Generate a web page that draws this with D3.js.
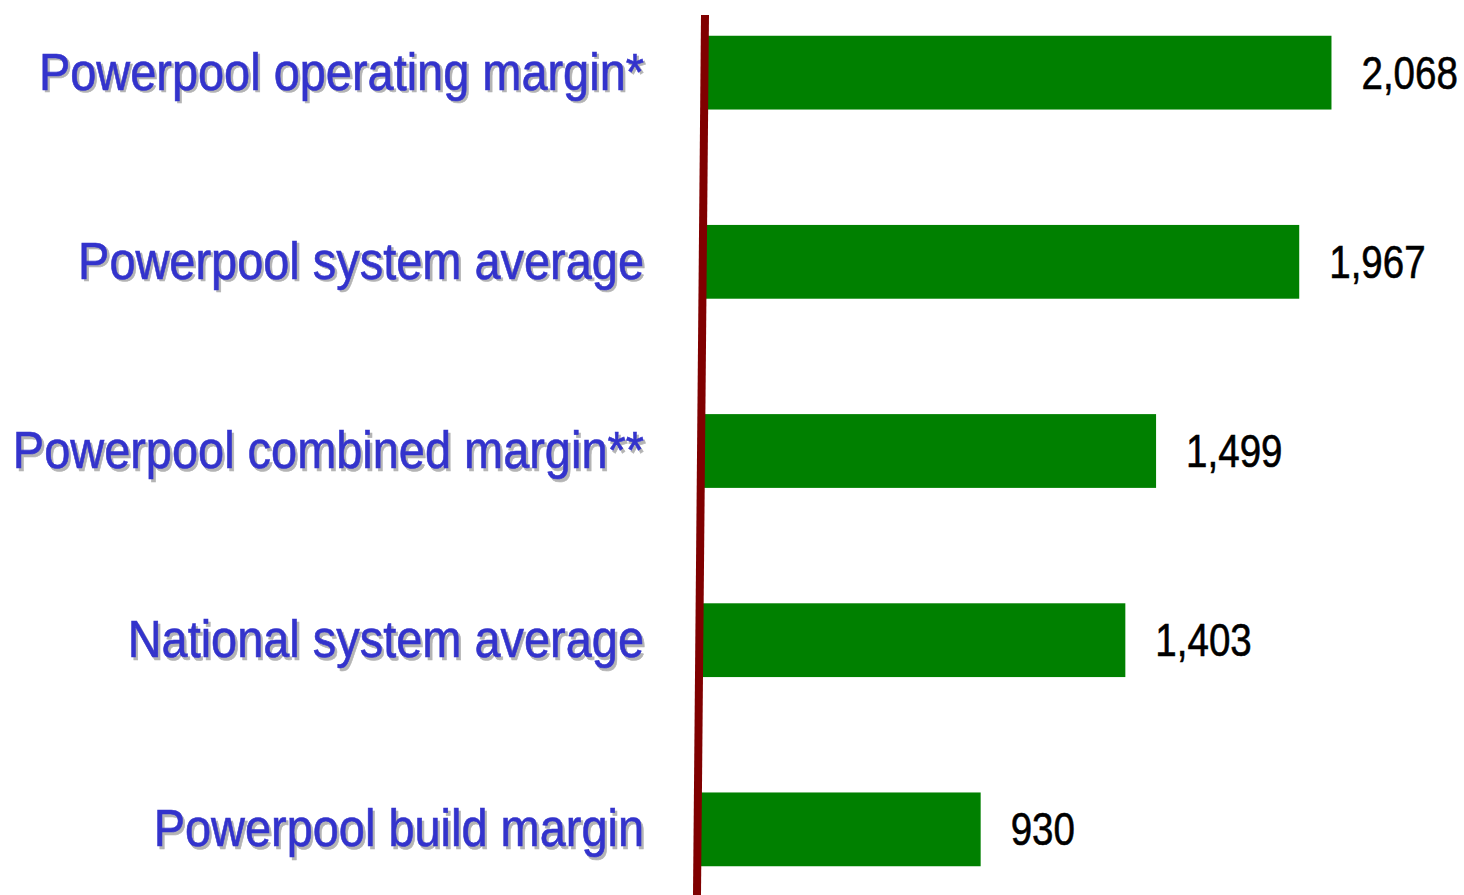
<!DOCTYPE html>
<html>
<head>
<meta charset="utf-8">
<style>
  body { margin: 0; background: #fff; }
  text { font-family: "Liberation Sans", Arial, sans-serif; }
</style>
</head>
<body>
<svg id="chart" width="1464" height="895"></svg>
<script src="https://cdn.jsdelivr.net/npm/d3@7"></script>
<script>
  // data
  const categories = [
    "Powerpool operating margin*",
    "Powerpool system average",
    "Powerpool combined margin**",
    "National system average",
    "Powerpool build margin"
  ]
  const values = [2068, 1967, 1499, 1403, 930]

  const svg = d3.select("#chart")

  // the band scale for rows
  let y = d3.scaleBand()
    .domain(categories)
    .range([-21, 923])
    .paddingInner(0.61)
    .paddingOuter(0.3)

  // slanted axis line: x position changes with y
  let axisX = d3.scaleLinear().domain([15, 895]).range([705, 697])

  let x = d3.scaleLinear().domain([0, 2068]).range([0, 625])

  let mid = d => y(d) + y.bandwidth() / 2

  let rows = svg.selectAll("g.row")
    .data(categories)
    .enter().append("g")
    .attr("class", "row")

  rows.append("rect")
    .attr("x", d => axisX(mid(d)) + 2)
    .attr("y", d => y(d))
    .attr("width", (d, i) => x(values[i]))
    .attr("height", y.bandwidth())
    .attr("fill", "#008000")

  // value labels, squeezed to look like a narrow font
  rows.append("g")
    .attr("transform", (d, i) => "translate(" + (axisX(mid(d)) + 2 + x(values[i]) + 30) + "," + (mid(d) + 16) + ") scale(0.82,1)")
    .append("text")
    .attr("font-size", 47)
    .attr("fill", "#000")
    .attr("stroke", "#000")
    .attr("stroke-width", 0.6)
    .text((d, i) => d3.format(",")(values[i]))

  // category labels with a grey shadow
  let lab = rows.append("g")
    .attr("transform", d => "translate(644," + (mid(d) + 17) + ") scale(0.92,1)")

  lab.append("text")
    .attr("x", 2.5).attr("y", 2.5)
    .attr("text-anchor", "end")
    .attr("font-size", 51)
    .attr("fill", "#b4b4b4")
    .attr("stroke", "#b4b4b4")
    .attr("stroke-width", 0.6)
    .text(d => d)

  lab.append("text")
    .attr("text-anchor", "end")
    .attr("font-size", 51)
    .attr("fill", "#3333cc")
    .attr("stroke", "#3333cc")
    .attr("stroke-width", 0.6)
    .text(d => d)

  svg.append("line")
    .attr("x1", axisX(15)).attr("y1", 15)
    .attr("x2", axisX(895)).attr("y2", 895)
    .attr("stroke", "#800000")
    .attr("stroke-width", 8)
</script>
</body>
</html>
